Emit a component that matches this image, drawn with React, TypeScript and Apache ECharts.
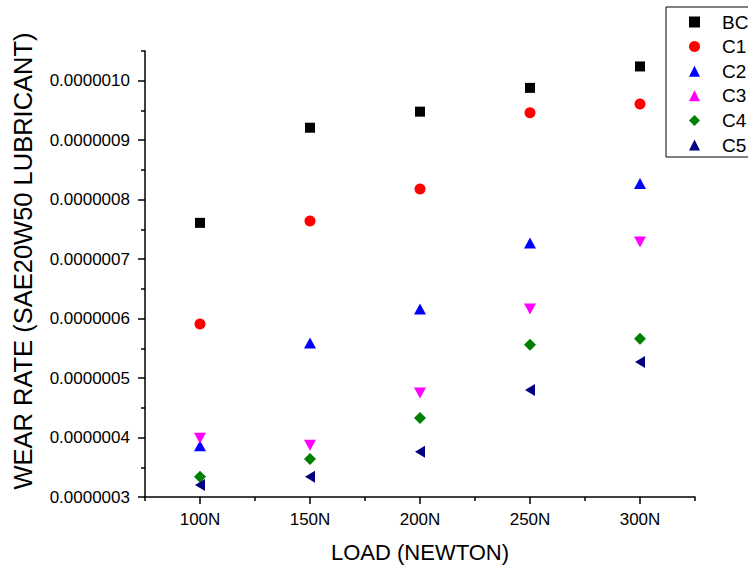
import React, { useEffect, useRef } from "react";
import * as echarts from "echarts";

// Load steps on the x axis
const loads = ["100N", "150N", "200N", "250N", "300N"];

// Wear rate per sample (SAE20W50 lubricant)
const bc = [7.61e-7, 9.21e-7, 9.48e-7, 9.88e-7, 1.024e-6];
const c1 = [5.91e-7, 7.64e-7, 8.18e-7, 9.46e-7, 9.61e-7];
const c2 = [3.86e-7, 5.59e-7, 6.16e-7, 7.27e-7, 8.27e-7];
const c3 = [3.99e-7, 3.87e-7, 4.75e-7, 6.16e-7, 7.29e-7];
const c4 = [3.34e-7, 3.64e-7, 4.33e-7, 5.56e-7, 5.66e-7];
const c5 = [3.2e-7, 3.34e-7, 3.76e-7, 4.8e-7, 5.27e-7];

// Y axis ticks
const yMin = 3e-7;
const yMax = 1.05e-6;
const majorTicks = [3e-7, 4e-7, 5e-7, 6e-7, 7e-7, 8e-7, 9e-7, 1e-6];
const minorTicks = [3.5e-7, 4.5e-7, 5.5e-7, 6.5e-7, 7.5e-7, 8.5e-7, 9.5e-7, 1.05e-6];

const FONT = '"Liberation Sans", Arial, Helvetica, sans-serif';

const seriesDefs = [
  { name: "BC", data: bc, symbol: "rect", size: 10, rotate: 0, color: "#000000" },
  { name: "C1", data: c1, symbol: "circle", size: 11, rotate: 0, color: "#ff0000" },
  { name: "C2", data: c2, symbol: "triangle", size: [12, 11], rotate: 0, color: "#0000ff" },
  { name: "C3", data: c3, symbol: "triangle", size: [12, 11], rotate: 180, color: "#ff00ff" },
  { name: "C4", data: c4, symbol: "diamond", size: 12, rotate: 0, color: "#008000" },
  { name: "C5", data: c5, symbol: "triangle", size: [12, 10], rotate: 90, color: "#000080" },
];

export default function App() {
  const ref = useRef<HTMLDivElement>(null);

  useEffect(() => {
    if (!ref.current) return;
    const chart = echarts.init(ref.current, undefined, { renderer: "svg" });

    const axisLine = { show: true, onZero: false, lineStyle: { color: "#000", width: 1.5 } };

    chart.setOption({
      animation: false,
      backgroundColor: "#ffffff",
      grid: { left: 145, right: 53, top: 51, bottom: 72, containLabel: false },
      legend: {
        orient: "vertical",
        left: 666,
        top: 7,
        selectedMode: false,
        itemWidth: 11,
        itemHeight: 11,
        itemGap: 4.6,
        symbolKeepAspect: true,
        padding: [5, 14, 2, 23],
        borderColor: "#000",
        borderWidth: 1,
        textStyle: {
          fontSize: 19,
          lineHeight: 20,
          color: "#000",
          fontFamily: FONT,
          padding: [0, 0, 0, 17],
        },
        data: seriesDefs.map((s) => s.name),
      },
      xAxis: [
        {
          // band boundaries carry the short ticks
          type: "category",
          data: loads,
          boundaryGap: true,
          position: "bottom",
          axisLine,
          axisTick: { show: true, inside: false, length: 4, lineStyle: { color: "#000", width: 1.5 } },
          axisLabel: { show: false },
          splitLine: { show: false },
        },
        {
          // category centres carry the long ticks and labels
          type: "category",
          data: loads,
          boundaryGap: true,
          position: "bottom",
          axisLine: { show: false },
          axisTick: {
            show: true,
            alignWithLabel: true,
            inside: false,
            length: 7,
            lineStyle: { color: "#000", width: 1.5 },
          },
          axisLabel: { show: true, margin: 14, fontSize: 17, color: "#000", fontFamily: FONT },
          splitLine: { show: false },
        },
      ],
      yAxis: [
        {
          type: "value",
          min: yMin,
          max: yMax,
          position: "left",
          axisLine,
          axisTick: {
            show: true,
            inside: false,
            length: 7,
            customValues: majorTicks,
            lineStyle: { color: "#000", width: 1.5 },
          },
          axisLabel: {
            show: true,
            margin: 15,
            fontSize: 17,
            color: "#000",
            fontFamily: FONT,
            customValues: majorTicks,
            formatter: (v: number) => v.toFixed(7),
          },
          splitLine: { show: false },
        },
        {
          type: "value",
          min: yMin,
          max: yMax,
          position: "left",
          axisLine: { show: false },
          axisTick: {
            show: true,
            inside: false,
            length: 4,
            customValues: minorTicks,
            lineStyle: { color: "#000", width: 1.5 },
          },
          axisLabel: { show: false },
          splitLine: { show: false },
        },
      ],
      series: seriesDefs.map((s) => ({
        type: "scatter",
        name: s.name,
        xAxisIndex: 1,
        yAxisIndex: 0,
        data: s.data,
        symbol: s.symbol,
        symbolSize: s.size,
        symbolRotate: s.rotate,
        itemStyle: { color: s.color, opacity: 1 },
        emphasis: { disabled: true },
      })),
      graphic: [
        {
          type: "text",
          x: 420,
          y: 552,
          style: {
            text: "LOAD (NEWTON)",
            align: "center",
            verticalAlign: "middle",
            fontSize: 22,
            fontFamily: FONT,
            fill: "#000",
          },
        },
        {
          type: "text",
          x: 23,
          y: 261,
          rotation: Math.PI / 2,
          style: {
            text: "WEAR RATE (SAE20W50 LUBRICANT)",
            align: "center",
            verticalAlign: "middle",
            fontSize: 25.5,
            fontFamily: FONT,
            fill: "#000",
          },
        },
      ],
    });

    return () => chart.dispose();
  }, []);

  return (
    <div
      ref={ref}
      style={{ position: "absolute", left: 0, top: 0, width: 748, height: 569, background: "#fff" }}
    />
  );
}
